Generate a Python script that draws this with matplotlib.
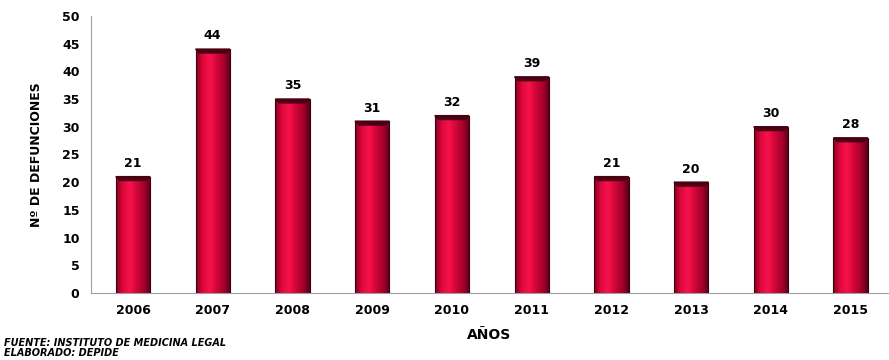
import matplotlib
matplotlib.use("Agg")
import matplotlib.pyplot as plt
import numpy as np
from matplotlib.colors import LinearSegmentedColormap

years = ['2006', '2007', '2008', '2009', '2010', '2011', '2012', '2013', '2014', '2015']
deaths = [21, 44, 35, 31, 32, 39, 21, 20, 30, 28]

fig = plt.figure(figsize=(8.89, 3.6), dpi=100)
ax = fig.add_axes([0.102, 0.186, 0.897, 0.770])

x = np.arange(len(years))
width = 0.43
bars = ax.bar(x, deaths, width=width, color='#d0063a', edgecolor='#3a0010', linewidth=0.8, zorder=2)

# horizontal shading to mimic the bevelled 3D bars
cmap = LinearSegmentedColormap.from_list('bev', ['#8a0020', '#e0083e', '#f8124a', '#d00638', '#a8002c', '#5a0016'])
grad = np.linspace(0, 1, 64).reshape(1, -1)
for b in bars:
    bx, bw, bh = b.get_x(), b.get_width(), b.get_height()
    im = ax.imshow(grad, cmap=cmap, aspect='auto', extent=[bx, bx + bw, 0, bh], zorder=2.5)
    im.set_clip_path(b)
    # top bevel
    ax.fill([bx, bx + bw, bx + bw - 0.05, bx + 0.05], [bh, bh, bh - 0.7, bh - 0.7],
            color='#4a0012', zorder=3)
    b.set_facecolor('none')
    b.set_zorder(3)
    ax.text(b.get_x() + bw / 2, bh + 1.2, str(int(bh)), ha='center', va='bottom',
            fontsize=9, fontweight='bold', color='black')

ax.set_xlim(-0.53, 9.47)
ax.set_ylim(0, 50)
ax.set_yticks(range(0, 51, 5))
ax.set_xticks(x)
ax.set_xticklabels(years)
ax.tick_params(axis='both', length=0, labelsize=9, pad=8)
for lab in ax.get_xticklabels() + ax.get_yticklabels():
    lab.set_fontweight('bold')
ax.spines['top'].set_visible(False)
ax.spines['right'].set_visible(False)
ax.spines['left'].set_color('#a0a0a0')
ax.spines['bottom'].set_color('#a0a0a0')

ax.set_ylabel('Nº DE DEFUNCIONES', fontsize=9, fontweight='bold', labelpad=14)
ax.set_xlabel('AÑOS', fontsize=10, fontweight='bold', labelpad=8)

fig.text(0.005, 0.038, 'FUENTE: INSTITUTO DE MEDICINA LEGAL', fontsize=7,
         fontweight='bold', style='italic')
fig.text(0.005, 0.012, 'ELABORADO: DEPIDE', fontsize=7, fontweight='bold', style='italic')

fig.savefig('out.png', dpi=100)
